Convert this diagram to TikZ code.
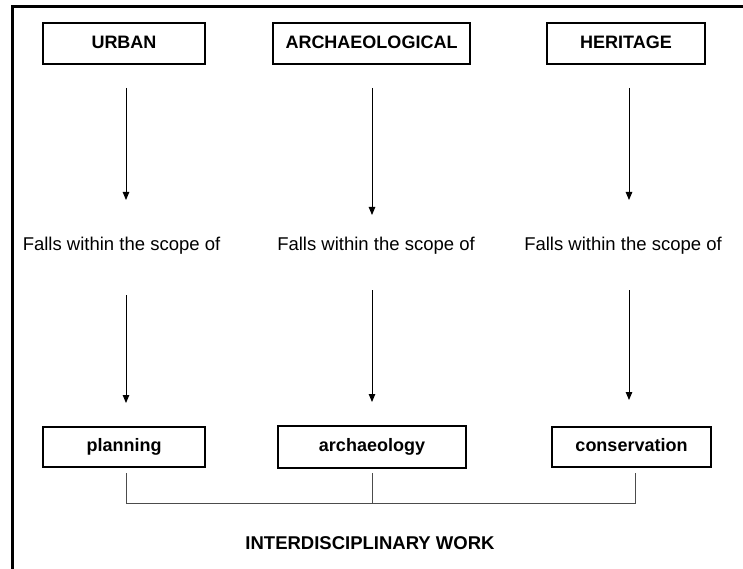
\documentclass[tikz,border=0pt]{standalone}
\usepackage{fontspec}
\setmainfont{Liberation Sans}
\usetikzlibrary{arrows.meta}

\tikzset{
	topbox/.style={draw, line width=2pt, minimum height=41pt, inner sep=0pt, text height=13pt, text depth=3.5pt, font=\fontsize{18}{20}\selectfont\bfseries},
	scopetext/.style={inner sep=0pt, font=\fontsize{18.5}{20}\selectfont},
	downarr/.style={line width=0.9pt, -{Triangle[width=6.5pt,length=8pt]}},
	joinline/.style={line width=1pt, draw=black!70}
}

\begin{document}
\begin{tikzpicture}[x=1pt,y=-1pt]
\useasboundingbox (0,0) rectangle (743,569);
% frame (top and left only)
\draw[line width=3pt] (12,569) -- (12,7) -- (743,7);

% upper row
\node[topbox, minimum width=162pt] (urban) at (124,43.5) {URBAN};
\node[topbox, minimum width=197pt] (archaeological) at (371.5,43.5) {ARCHAEOLOGICAL};
\node[topbox, minimum width=158pt] (heritage) at (626,43.5) {HERITAGE};

% middle texts
\node[scopetext] (scopeA) at (121.5,246) {Falls within the scope of};
\node[scopetext] (scopeB) at (376,246) {Falls within the scope of};
\node[scopetext] (scopeC) at (623,246) {Falls within the scope of};

% lower row
\node[topbox, minimum width=162pt, minimum height=40pt] (planning) at (124,447) {planning};
\node[topbox, minimum width=188pt, minimum height=42pt] (archaeology) at (372,447) {archaeology};
\node[topbox, minimum width=159pt, minimum height=40pt] (conservation) at (631.5,447) {conservation};

% arrows
\coordinate (a1) at (126,88);   \coordinate (a2) at (126,200);
\coordinate (b1) at (372,88);   \coordinate (b2) at (372,215);
\coordinate (c1) at (629,88);   \coordinate (c2) at (629,200);
\coordinate (a3) at (126,295);  \coordinate (a4) at (126,403);
\coordinate (b3) at (372,290);  \coordinate (b4) at (372,402);
\coordinate (c3) at (629,290);  \coordinate (c4) at (629,400);
\foreach \s/\e in {a1/a2,b1/b2,c1/c2,a3/a4,b3/b4,c3/c4}
	\draw[downarr] (\s) -- (\e);

% joining bracket
\coordinate (j1) at (126,473);  \coordinate (j2) at (126,503);
\coordinate (j3) at (372,473);  \coordinate (j4) at (372,503);
\coordinate (j5) at (635,473);  \coordinate (j6) at (635,503);
\draw[joinline] (j1) -- (j2) -- (j6) -- (j5);
\draw[joinline] (j3) -- (j4);

\node[font=\fontsize{18.5}{20}\selectfont\bfseries, inner sep=0pt] (work) at (370,543) {INTERDISCIPLINARY WORK};
\end{tikzpicture}
\end{document}
